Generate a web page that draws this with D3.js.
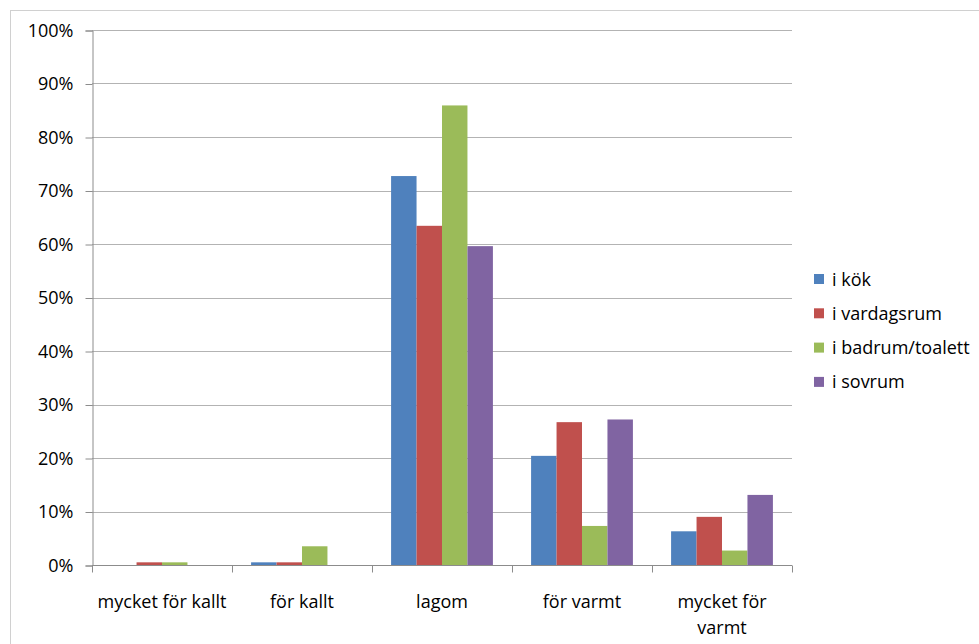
<!DOCTYPE html>
<html><head><meta charset="utf-8">
<script src="https://cdn.jsdelivr.net/npm/d3@7"></script>
<style>body{margin:0;background:#fff;} text{font-family:"Open Sans","Noto Sans",sans-serif;fill:#000;}</style>
</head><body>
<svg id="c" width="979" height="644"></svg>
<script>
const categories = ["mycket för kallt", "för kallt", "lagom", "för varmt", "mycket för varmt"];
const seriesNames = ["i kök", "i vardagsrum", "i badrum/toalett", "i sovrum"];
const seriesColors = ["#4F81BD", "#C0504D", "#9BBB59", "#8064A2"];
const kok = [0, 0.5, 72.7, 20.4, 6.3];
const vardagsrum = [0.5, 0.5, 63.4, 26.7, 9.0];
const badrum = [0.5, 3.5, 85.9, 7.3, 2.7];
const sovrum = [0, 0, 59.6, 27.2, 13.1];
const yTicks = [0, 10, 20, 30, 40, 50, 60, 70, 80, 90, 100];
const values = [kok, vardagsrum, badrum, sovrum];

(function () {
const FS = 18;
const svg = d3.select("#c");
svg.append("rect").attr("x", 10.5).attr("y", 10.5).attr("width", 980).attr("height", 650)
  .attr("fill", "none").attr("stroke", "#a0a0a0").attr("stroke-dasharray", "1,1");

const pLeft = 92, pRight = 792, pTop = 30, pBottom = 565;
const x = d3.scaleBand().domain(categories).range([pLeft, pRight]).paddingInner(0).paddingOuter(0);
const y = d3.scaleLinear().domain([0, 100]).range([pBottom, pTop]);
const inner = d3.scaleBand().domain(d3.range(4)).range([0, x.bandwidth()]).paddingOuter(0.75).paddingInner(0);

svg.append("g").selectAll("line").data(yTicks.filter(d => d > 0)).join("line")
  .attr("x1", pLeft).attr("x2", pRight).attr("y1", d => Math.round(y(d)) + 0.5).attr("y2", d => Math.round(y(d)) + 0.5)
  .attr("stroke", "#b3b3b3").attr("stroke-width", 1);

values.forEach((vals, si) => {
  svg.append("g").selectAll("rect").data(vals).join("rect")
    .attr("x", (d, i) => x(categories[i]) + inner(si))
    .attr("width", inner.bandwidth())
    .attr("y", d => y(d))
    .attr("height", d => y(0) - y(d))
    .attr("fill", seriesColors[si]);
});

const yAxis = d3.axisLeft(y).tickValues(yTicks).tickFormat(d => d + "%").tickSize(7).tickPadding(12);
const ya = svg.append("g").attr("transform", `translate(${pLeft + 0.5},0.5)`).call(yAxis);
ya.select(".domain").attr("stroke", "#8c8c8c");
ya.selectAll(".tick line").attr("stroke", "#8c8c8c");
ya.selectAll("text").attr("font-size", FS).attr("font-family", "'Open Sans', sans-serif").attr("fill", "#000");

const xa = svg.append("g").attr("transform", `translate(0,${pBottom + 0.5})`);
xa.append("line").attr("x1", pLeft).attr("x2", pRight).attr("stroke", "#8c8c8c");
const tickXs = categories.map(c => x(c)).concat([pRight]);
xa.selectAll("line.t").data(tickXs).join("line").attr("class", "t")
  .attr("x1", d => Math.round(d) + 0.5).attr("x2", d => Math.round(d) + 0.5).attr("y1", 0).attr("y2", 7).attr("stroke", "#8c8c8c");
const labelLines = [["mycket för kallt"], ["för kallt"], ["lagom"], ["för varmt"], ["mycket för", "varmt"]];
categories.forEach((c, i) => {
  const t = xa.append("text").attr("x", x(c) + x.bandwidth() / 2).attr("y", 42)
    .attr("text-anchor", "middle").attr("font-size", FS);
  labelLines[i].forEach((ln, k) => t.append("tspan").attr("x", x(c) + x.bandwidth() / 2).attr("dy", k === 0 ? 0 : 26).text(ln));
});

const lg = svg.append("g").attr("transform", "translate(814,280)");
seriesNames.forEach((n, i) => {
  const g = lg.append("g").attr("transform", `translate(0,${i * 34.3})`);
  g.append("rect").attr("x", 0).attr("y", -6).attr("width", 10).attr("height", 10).attr("fill", seriesColors[i]);
  g.append("text").attr("x", 18).attr("y", 5.5).attr("font-size", FS).text(n);
});
})();
</script>
</body></html>
